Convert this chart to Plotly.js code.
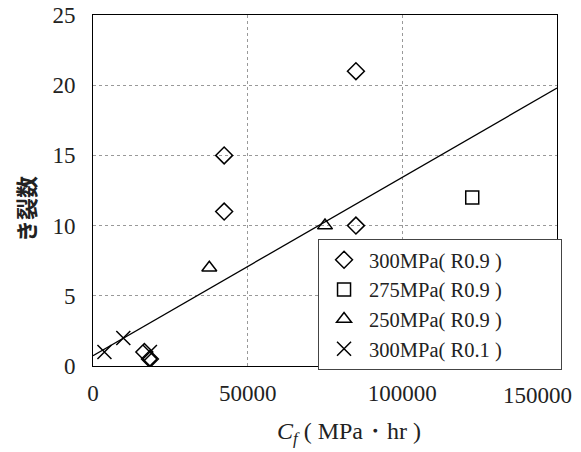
<!DOCTYPE html>
<html>
<head>
<meta charset="utf-8">
<script src="https://cdn.plot.ly/plotly-3.0.1.min.js"></script>
<style>html,body{margin:0;padding:0;background:#fff;}</style>
</head>
<body>
<div id="chart" style="width:581px;height:452px;"></div>
<script>
// Series: 300MPa (R0.9) diamonds
const s300r09X = [42400, 42400, 85000, 85000, 16600, 18400];
const s300r09Y = [15, 11, 21, 10, 1, 0.5];
// 275MPa (R0.9) squares
const s275r09X = [122600];
const s275r09Y = [12];
// 250MPa (R0.9) triangles
const s250r09X = [75000, 37600];
const s250r09Y = [10, 7];
// 300MPa (R0.1) crosses
const s300r01X = [3700, 9800, 18400, 18400];
const s300r01Y = [1, 2, 1, 0];
// trend line end points
const trendX = [0, 150000];
const trendY = [0.73, 19.8];
const seriesNames = ['300MPa( R0.9 )', '275MPa( R0.9 )', '250MPa( R0.9 )', '300MPa( R0.1 )'];
const xTickVals = [0, 50000, 100000, 150000];
const xTickText = ['0', '50000', '100000', ''];
const xLastTick = '150000';

const serif = 'Liberation Serif, Times New Roman, serif';
const mk = (sym, size) => ({symbol: sym, size: size, color: '#000', line: {color: '#000', width: 1.5}});

const data = [
  {x: trendX, y: trendY, mode: 'lines', line: {color: '#000', width: 1.3}, showlegend: false, hoverinfo: 'skip'},
  {x: s300r09X, y: s300r09Y, mode: 'markers', name: seriesNames[0], marker: mk('diamond-open', 13)},
  {x: s275r09X, y: s275r09Y, mode: 'markers', name: seriesNames[1], marker: mk('square-open', 13)},
  {x: s250r09X, y: s250r09Y, mode: 'markers', name: seriesNames[2], marker: mk('triangle-up-open', 13)},
  {x: s300r01X, y: s300r01Y, mode: 'markers', name: seriesNames[3], marker: mk('x-thin-open', 14)}
];

const layout = {
  width: 581, height: 452,
  margin: {l: 93, r: 24, t: 15, b: 86},
  paper_bgcolor: '#fff', plot_bgcolor: '#fff',
  font: {family: serif, size: 23, color: '#222'},
  xaxis: {
    range: [0, 150000], tickmode: 'array', tickvals: xTickVals, ticktext: xTickText,
    showgrid: true, gridcolor: '#999', griddash: 'dot', gridwidth: 1,
    zeroline: false, showline: true, linecolor: '#000', linewidth: 1, mirror: true,
    ticks: 'outside', ticklen: 6, tickcolor: 'rgba(0,0,0,0)',
    tickfont: {family: serif, size: 23, color: '#222'}
  },
  yaxis: {
    range: [0, 25], dtick: 5, tick0: 0,
    showgrid: true, gridcolor: '#999', griddash: 'dot', gridwidth: 1,
    zeroline: false, showline: true, linecolor: '#000', linewidth: 1, mirror: true,
    ticks: 'outside', ticklen: 12, tickcolor: 'rgba(0,0,0,0)',
    tickfont: {family: serif, size: 23, color: '#222'}
  },
  legend: {
    orientation: 'h',
    x: 0.485, y: 0.362, xanchor: 'left', yanchor: 'top',
    bgcolor: '#fff', bordercolor: '#444', borderwidth: 1,
    font: {family: serif, size: 20.5, color: '#222'},
    tracegroupgap: 0, itemwidth: 40,
    entrywidth: 187, entrywidthmode: 'pixels'
  },
  annotations: [
    {xref: 'x', yref: 'paper', x: xTickVals[3], y: -0.083, xanchor: 'right', yanchor: 'middle', xshift: 17,
     showarrow: false, text: xLastTick, font: {family: serif, size: 23, color: '#222'}},
    {xref: 'paper', yref: 'paper', x: 0.552, y: -0.19, xanchor: 'center', yanchor: 'middle',
     showarrow: false, text: '<i>C</i><sub><i>f</i></sub> ( MPa・hr )',
     font: {family: serif, size: 24, color: '#222'}},
    {xref: 'paper', yref: 'paper', x: -0.147, y: 0.447, xanchor: 'center', yanchor: 'middle',
     showarrow: false, textangle: -90, text: '<b>き裂数</b>',
     font: {family: 'Noto Sans CJK JP', size: 22, color: '#222'}}
  ],
  showlegend: true
};

Plotly.newPlot('chart', data, layout, {displayModeBar: false, staticPlot: true});
</script>
</body>
</html>
